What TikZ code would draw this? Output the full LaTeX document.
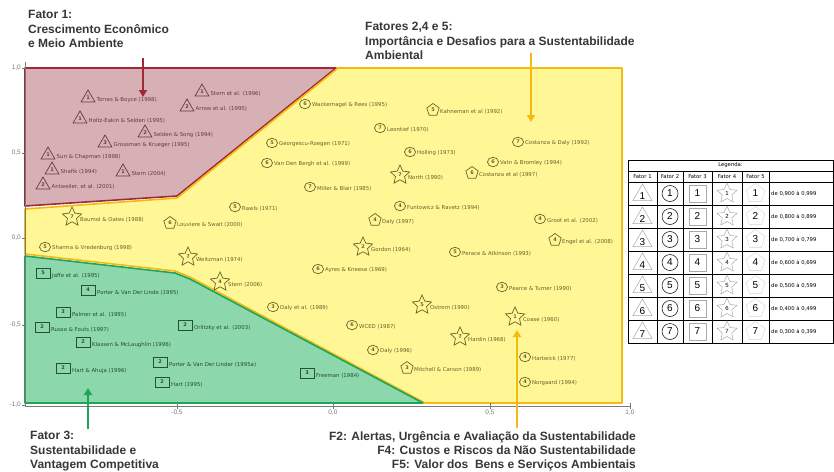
\documentclass[tikz,border=0pt]{standalone}
\usepackage{fontspec}
\setmainfont{DejaVu Sans}
\newfontfamily\ttl{Liberation Sans}
\usetikzlibrary{shapes.geometric,arrows.meta}
\definecolor{redfill}{RGB}{215,176,182}
\definecolor{redline}{RGB}{160,40,55}
\definecolor{yelfill}{RGB}{255,246,150}
\definecolor{yelline}{RGB}{245,185,20}
\definecolor{grnfill}{RGB}{140,215,172}
\definecolor{grnline}{RGB}{30,165,85}
\definecolor{redsym}{RGB}{95,60,65}
\definecolor{yelsym}{RGB}{105,100,40}
\definecolor{grnsym}{RGB}{35,80,55}
\definecolor{axgray}{RGB}{120,120,120}
\definecolor{titlegray}{RGB}{55,55,55}
\definecolor{lggray}{RGB}{170,170,170}
\tikzset{
  lbl/.style={font=\fontsize{5.4}{6}\selectfont, inner sep=0pt, anchor=west},
  sym/.style={draw, line width=0.7pt, inner sep=0pt, font=\fontsize{5}{5}\selectfont\bfseries},
  trisym/.style={sym, regular polygon, regular polygon sides=3, minimum size=16pt},
  circsym/.style={sym, ellipse, minimum width=11pt, minimum height=9.5pt},
  sqsym/.style={sym, rectangle, minimum width=14pt, minimum height=10pt},
  starsym/.style={sym, star, star points=5, star point ratio=2.1, minimum size=20pt},
  pentsym/.style={sym, regular polygon, regular polygon sides=5, minimum size=13pt},
  region/.style={line width=1.6pt, line join=round},
  title/.style={font=\ttl\bfseries\fontsize{12}{14.6}\selectfont, text=titlegray, align=left, inner sep=0pt},
  bigarrow/.style={line width=2.2pt, -{Triangle[length=7pt,width=8pt]}},
  tick/.style={font=\ttl\fontsize{6.5}{7}\selectfont, text=axgray, inner sep=0pt},
  lgtxt/.style={font=\fontsize{5.3}{6}\selectfont, inner sep=0pt},
  lgnum/.style={font=\ttl\fontsize{10}{10}\selectfont, inner sep=0pt},
}
\begin{document}
\begin{tikzpicture}[x=1pt,y=-1pt]
\useasboundingbox (0,0) rectangle (834,471);
\fill[white] (0,0) rectangle (834,471);

% regions
\filldraw[fill=redfill, draw=redline, region] (25,206) -- (25,68) -- (336,68) -- (177,196) -- cycle;
\filldraw[fill=yelfill, draw=yelline, region] (25,209) -- (177,198) -- (338,68) -- (622,68) -- (622,403) -- (425,403) -- (190,277) -- (175,271) -- (25,254) -- cycle;
\filldraw[fill=grnfill, draw=grnline, region] (25,256) -- (175,273) -- (190,279) -- (423,403) -- (25,403) -- cycle;

% axes
\draw[axgray, line width=0.5pt] (25,62) -- (25,406) -- (630,406);
\foreach \yy/\tt [count=\i] in {68/{1,0},153/{0,5},238/{0,0},325/{-0,5},405/{-1,0}} {
  \draw[axgray, line width=0.5pt] (22,\yy) -- (25,\yy);
  \node[tick, anchor=east] (yt\i) at (21,\yy) {\tt};
}
\foreach \xx/\tt [count=\i] in {177/{-0,5},333/{0,0},490/{0,5},630/{1,0}} {
  \draw[axgray, line width=0.5pt] (\xx,403) -- (\xx,409);
  \node[tick, anchor=north] (xt\i) at (\xx,410) {\tt};
}

% Fator 1 (triangles)
\foreach \n/\x/\y/\lab [count=\i] in {
  1/88/98/Torras \& Boyce (1998),
  1/202/92/Stern et al. (1996),
  2/187/107/Arrow et al. (1995),
  1/80/119/Holtz-Eakin \& Selden (1995),
  2/145/133/Selden \& Song (1994),
  3/105/143/Grossman \& Krueger (1995),
  1/48/155/Suri \& Chapman (1998),
  1/52/170/Shafik (1994),
  1/123/172/Stern (2004),
  2/43/185/{Antweiler, et al. (2001)}} {
  \node[trisym, draw=redsym, text=redsym] (t\i) at (\x,\y) {\n};
  \node[lbl, text=redsym] (tl\i) at ([xshift=8.5pt,yshift=-2pt]t\i.center) {\lab};
}

% Fator 2 (circles)
\foreach \n/\x/\y/\lab [count=\i] in {
  6/305/104/Wackernagel \& Rees (1995),
  7/380/128/Leontief (1970),
  7/518/142/Costanza \& Daly (1992),
  5/272/143/Georgescu-Roegen (1971),
  6/410/152/Holling (1973),
  6/267/163/Van Den Bergh et al. (1999),
  6/493/162/Vatn \& Bromley (1994),
  7/310/187/Miller \& Blair (1985),
  5/235/207/Rawls (1971),
  4/400/206/Funtowicz \& Ravetz (1994),
  4/540/219/Groot et al. (2002),
  5/45/247/Sharma \& Vredenburg (1998),
  5/455/252/Perace \& Atkinson (1993),
  6/318/269/Ayres \& Kneese (1969),
  3/502/287/Pearce \& Turner (1990),
  3/273/307/Daly et al. (1989),
  6/352/325/WCED (1987),
  4/373/350/Daly (1996),
  4/525/357/Hartwick (1977),
  4/525/382/Norgaard (1994)} {
  \node[circsym, draw=yelsym, text=yelsym] (c\i) at (\x,\y) {\n};
  \node[lbl, text=yelsym] (cl\i) at ([xshift=7pt,yshift=-1.5pt]c\i.center) {\lab};
}

% Fator 5 (pentagons)
\foreach \n/\x/\y/\lab [count=\i] in {
  5/433/110/Kahneman et al (1992),
  6/472/173/Costanza et al (1997),
  6/170/223/Louviere \& Swait (2000),
  4/375/220/Daly (1997),
  4/555/240/Engel et al. (2008),
  3/407/368/Mitchell \& Carson (1989)} {
  \node[pentsym, draw=yelsym, text=yelsym] (p\i) at (\x,\y) {\n};
  \node[lbl, text=yelsym] (pl\i) at ([xshift=7pt,yshift=-2pt]p\i.center) {\lab};
}

% Fator 4 (stars)
\foreach \n/\x/\y/\lab [count=\i] in {
  7/400/175/North (1990),
  7/72/217/Baumol \& Oates (1988),
  2/363/247/Gordon (1964),
  7/188/257/Weitzman (1974),
  4/220/282/Stern (2006),
  5/422/305/Ostrom (1990),
  1/515/317/Coase (1960),
  7/460/337/Hardin (1968)} {
  \node[starsym, draw=yelsym, text=yelsym] (s\i) at (\x,\y) {\n};
  \node[lbl, text=yelsym] (sl\i) at ([xshift=8pt,yshift=-3pt]s\i.center) {\lab};
}

% Fator 3 (squares)
\foreach \n/\x/\y/\lab [count=\i] in {
  5/43/273/Jaffe et al. (1995),
  4/88/290/Porter \& Van Der Linde (1995),
  3/63/312/Palmer et al. (1995),
  2/42/327/Russo \& Fouts (1997),
  2/185/325/Orlitzky et al. (2003),
  2/83/342/Klassen \& McLaughlin (1996),
  2/160/362/Porter \& Van Der Linder (1995a),
  2/63/368/Hart \& Ahuja (1996),
  2/162/382/Hart (1995),
  3/307/373/Freeman (1984)} {
  \node[sqsym, draw=grnsym, text=grnsym] (q\i) at (\x,\y) {\n};
  \node[lbl, text=grnsym] (ql\i) at ([xshift=9pt,yshift=-3pt]q\i.center) {\lab};
}

% titles and arrows
\node[title, anchor=north west] (f1) at (28,10) {Fator 1:\\Crescimento Econômico\\e Meio Ambiente};
\coordinate (a1s) at (143,58); \coordinate (a1e) at (143,97);
\draw[bigarrow, redline] (a1s) -- (a1e);

\node[title, anchor=north west] (f245) at (365,22) {Fatores 2,4 e 5:\\Importância e Desafios para a Sustentabilidade\\Ambiental};
\coordinate (a2s) at (531,53); \coordinate (a2e) at (531,122);
\draw[bigarrow, yelline] (a2s) -- (a2e);

\node[title, anchor=north west] (f3) at (30,431) {Fator 3:\\Sustentabilidade e\\Vantagem Competitiva};
\coordinate (a3s) at (88,429); \coordinate (a3e) at (88,388);
\draw[bigarrow, grnline] (a3s) -- (a3e);

\node[title, anchor=north east, align=right, font=\ttl\bfseries\fontsize{12}{14}\selectfont] (fb) at (636,431) {F2: Alertas, Urgência e Avaliação da Sustentabilidade\\F4: Custos e Riscos da Não Sustentabilidade\\F5: Valor dos \ Bens e Serviços Ambientais};
\coordinate (a4s) at (517,428); \coordinate (a4e) at (517,330);
\draw[bigarrow, yelline] (a4s) -- (a4e);

% legend table
\draw[black, line width=0.6pt] (628,160) rectangle (833,343);
\foreach \yy in {171,182,205,228,251,274,297,320} \draw[black, line width=0.5pt] (628,\yy) -- (833,\yy);
\foreach \xx in {657,683,712,742,769} \draw[black, line width=0.5pt] (\xx,171) -- (\xx,343);
\node[lgtxt] (lgt) at (730.5,165.5) {Legenda:};
\foreach \xx [count=\i] in {642.5,670,697.5,727,755.5} \node[lgtxt] (lgh\i) at (\xx,176.5) {Fator \i};
\foreach \r/\rng in {1/{de 0,900 à 0,999},2/{de 0,800 à 0,899},3/{de 0,700 à 0,799},4/{de 0,600 à 0,699},5/{de 0,500 à 0,599},6/{de 0,400 à 0,499},7/{de 0,300 à 0,399}} {
  \pgfmathsetmacro\yc{182+23*(\r-0.5)}
  \node[regular polygon, regular polygon sides=3, minimum size=22pt, draw=lggray, line width=0.5pt, inner sep=0pt] (lt\r) at (642.5,\yc+1.5) {};
  \node[lgnum] (ltn\r) at (642.5,\yc+2.5) {\r};
  \node[circle, minimum size=16pt, draw=black, line width=0.5pt, inner sep=0pt, lgnum] (lc\r) at (670,\yc) {\r};
  \node[rectangle, minimum size=17pt, draw=lggray, line width=0.5pt, inner sep=0pt, lgnum] (ls\r) at (697.5,\yc) {\r};
  \node[star, star points=5, star point ratio=2.1, minimum size=21pt, draw=lggray, line width=0.5pt, inner sep=0pt, font=\ttl\fontsize{6}{6}\selectfont] (lst\r) at (727,\yc) {\r};
  \node[regular polygon, regular polygon sides=5, minimum size=20pt, draw=lggray!50, line width=0.4pt, inner sep=0pt, lgnum] (lp\r) at (755.5,\yc) {\r};
  \node[lgtxt, anchor=west] (lr\r) at (771,\yc) {\rng};
}
\end{tikzpicture}
\end{document}
